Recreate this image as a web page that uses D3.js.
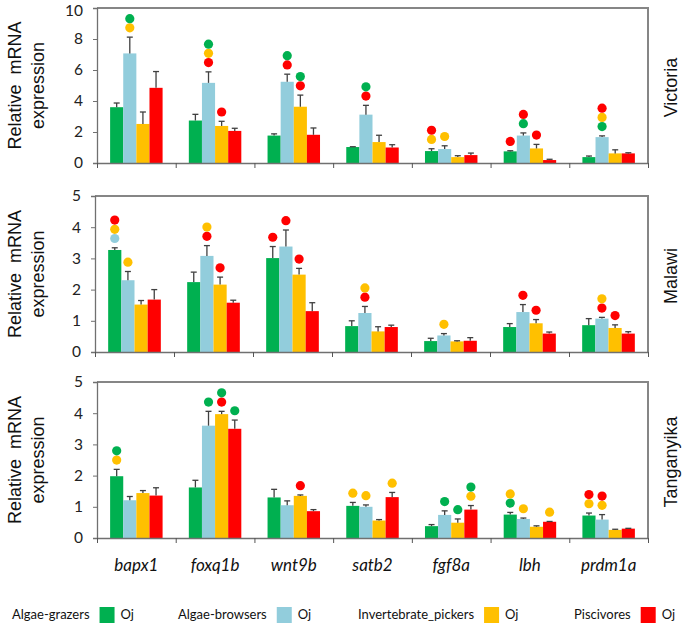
<!DOCTYPE html>
<html><head><meta charset="utf-8">
<script src="https://cdn.jsdelivr.net/npm/d3@7"></script>
<style>body{margin:0;background:#fff} svg{display:block}</style>
</head><body>
<svg id="chart" width="685" height="626"></svg>
<script>
// ---------- data ----------
const genes = ["bapx1", "foxq1b", "wnt9b", "satb2", "fgf8a", "lbh", "prdm1a"];
const series = ["Algae-grazers", "Algae-browsers", "Invertebrate_pickers", "Piscivores"];
const seriesColors = ["#00b050", "#92cddc", "#ffc000", "#ff0000"];
const sigCodes = ["G", "B", "Y", "R"]; // significance dot letters -> series colour
const lakes = ["Victoria", "Malawi", "Tanganyika"];

// rows: grazers, browsers, pickers, piscivores ; columns: genes
const victoriaMeans = [
  [3.60, 2.74, 1.77, 1.03, 0.77, 0.75, 0.38],
  [7.07, 5.17, 5.24, 3.12, 0.90, 1.77, 1.67],
  [2.52, 2.39, 3.63, 1.35, 0.38, 0.94, 0.62],
  [4.85, 2.07, 1.82, 1.00, 0.51, 0.19, 0.62]
];
const victoriaErrors = [
  [0.27, 0.40, 0.11, 0.02, 0.15, 0.04, 0.07],
  [1.05, 0.71, 0.49, 0.60, 0.21, 0.17, 0.08],
  [0.77, 0.30, 0.75, 0.44, 0.09, 0.26, 0.23],
  [1.05, 0.17, 0.44, 0.18, 0.13, 0.05, 0.04]
];
const victoriaSig = [
  ["", "", "", "", "YR", "R", ""],
  ["YG", "RYG", "RG", "RG", "Y", "GR", "GYR"],
  ["", "R", "RG", "", "", "R", ""],
  ["", "", "", "", "", "", ""]
];

const malawiMeans = [
  [3.27, 2.24, 3.01, 0.83, 0.35, 0.80, 0.86],
  [2.30, 3.08, 3.38, 1.25, 0.53, 1.28, 1.07],
  [1.52, 2.16, 2.48, 0.66, 0.34, 0.92, 0.77],
  [1.68, 1.58, 1.31, 0.80, 0.36, 0.59, 0.59]
];
const malawiErrors = [
  [0.07, 0.32, 0.37, 0.17, 0.09, 0.11, 0.21],
  [0.28, 0.33, 0.53, 0.21, 0.06, 0.24, 0.04],
  [0.13, 0.24, 0.20, 0.15, 0.02, 0.12, 0.10],
  [0.32, 0.08, 0.27, 0.06, 0.10, 0.05, 0.06]
];
const malawiSig = [
  ["BYR", "", "R", "", "", "", ""],
  ["Y", "RY", "R", "RY", "Y", "R", "RY"],
  ["", "R", "R", "", "", "R", "R"],
  ["", "", "", "", "", "", ""]
];

const tanganyikaMeans = [
  [1.98, 1.62, 1.30, 1.03, 0.38, 0.75, 0.72],
  [1.21, 3.60, 1.05, 1.00, 0.74, 0.61, 0.59],
  [1.44, 3.97, 1.35, 0.56, 0.49, 0.36, 0.26],
  [1.36, 3.50, 0.86, 1.31, 0.91, 0.52, 0.30]
];
const tanganyikaErrors = [
  [0.22, 0.23, 0.26, 0.11, 0.05, 0.07, 0.08],
  [0.12, 0.46, 0.14, 0.06, 0.13, 0.03, 0.16],
  [0.08, 0.09, 0.03, 0.03, 0.12, 0.03, 0.02],
  [0.25, 0.28, 0.05, 0.15, 0.13, 0.01, 0.01]
];
const tanganyikaSig = [
  ["YG", "", "", "Y", "", "GY", "YR"],
  ["", "G", "", "Y", "G", "Y", "YR"],
  ["", "RG", "R", "", "G", "", ""],
  ["", "G", "", "Y", "YG", "Y", ""]
];

const yMaxes = [10, 5, 5];
const yTickSteps = [2, 1, 1];
const yTitle = ["Relative  mRNA", "expression"];
const legendTag = "Oj";

// ---------- drawing ----------
const svg = d3.select("#chart");
const right = 648;
const panelDefs = [
  {lake: lakes[0], means: victoriaMeans, errors: victoriaErrors, sig: victoriaSig, yMax: yMaxes[0], step: yTickSteps[0], top: 8, bottom: 163, left: 97},
  {lake: lakes[1], means: malawiMeans, errors: malawiErrors, sig: malawiSig, yMax: yMaxes[1], step: yTickSteps[1], top: 196, bottom: 352, left: 95},
  {lake: lakes[2], means: tanganyikaMeans, errors: tanganyikaErrors, sig: tanganyikaSig, yMax: yMaxes[2], step: yTickSteps[2], top: 382, bottom: 538, left: 97}
];
const colorOf = d3.scaleOrdinal().domain(sigCodes).range(seriesColors);

panelDefs.forEach((p, pi) => {
  const x = d3.scaleBand().domain(genes).range([p.left, right]).padding(0);
  const xs = d3.scaleBand().domain(d3.range(series.length))
    .range([x.bandwidth() / 6, x.bandwidth() * 5 / 6]).padding(0);
  const y = d3.scaleLinear().domain([0, p.yMax]).range([p.bottom, p.top]);
  const g = svg.append("g");

  // frame top & right
  g.append("path")
    .attr("d", `M${p.left},${p.top}H${right}V${p.bottom}`)
    .attr("fill", "none").attr("stroke", "#868686").attr("stroke-width", 2);

  // bars
  const cells = [];
  series.forEach((s, si) => genes.forEach((gn, gi) => {
    cells.push({si, gi, gene: gn, v: p.means[si][gi], e: p.errors[si][gi], sig: p.sig[si][gi]});
  }));
  g.selectAll("rect.bar").data(cells).join("rect")
    .attr("class", "bar")
    .attr("x", d => x(d.gene) + xs(d.si))
    .attr("width", xs.bandwidth())
    .attr("y", d => y(d.v))
    .attr("height", d => y(0) - y(d.v))
    .attr("fill", d => seriesColors[d.si]);

  // error bars
  const eb = g.selectAll("g.err").data(cells).join("g").attr("class", "err")
    .attr("stroke", "#404040").attr("stroke-width", 1.3);
  eb.append("line")
    .attr("x1", d => x(d.gene) + xs(d.si) + xs.bandwidth() / 2)
    .attr("x2", d => x(d.gene) + xs(d.si) + xs.bandwidth() / 2)
    .attr("y1", d => y(d.v)).attr("y2", d => y(d.v + d.e));
  eb.append("line")
    .attr("x1", d => x(d.gene) + xs(d.si) + xs.bandwidth() / 2 - 3)
    .attr("x2", d => x(d.gene) + xs(d.si) + xs.bandwidth() / 2 + 3)
    .attr("y1", d => y(d.v + d.e)).attr("y2", d => y(d.v + d.e));

  // significance dots
  const dots = [];
  cells.forEach(c => c.sig.split("").forEach((code, k) => dots.push({c, code, k})));
  g.selectAll("circle.sig").data(dots).join("circle")
    .attr("class", "sig")
    .attr("cx", d => x(d.c.gene) + xs(d.c.si) + xs.bandwidth() / 2)
    .attr("cy", d => y(d.c.v + d.c.e) - 9.3 - 9.2 * d.k)
    .attr("r", 4.6)
    .attr("fill", d => colorOf(d.code));

  // y axis
  const yAxis = d3.axisLeft(y)
    .tickValues(d3.range(0, p.yMax + 1e-6, p.step))
    .tickSize(4).tickPadding(10).tickFormat(d3.format("d"));
  const ya = g.append("g").attr("transform", `translate(${p.left},0)`).call(yAxis);
  ya.select(".domain").attr("stroke", "#707070").attr("stroke-width", 1.3);
  ya.selectAll(".tick line").attr("stroke", "#707070");
  ya.selectAll(".tick text").attr("font-family", "Lato, 'Open Sans', sans-serif")
    .attr("font-size", 15.5).attr("fill", "#222")
    .attr("dy", d => (pi === 0 && d === p.yMax) ? "0.5em" : "0.32em");

  // x axis (boundary ticks)
  const xb = d3.scaleLinear().domain([0, genes.length]).range([p.left, right]);
  const xAxis = d3.axisBottom(xb).tickValues(d3.range(0, genes.length + 1))
    .tickSize(5).tickFormat("").tickSizeOuter(0);
  const xa = g.append("g").attr("transform", `translate(0,${p.bottom})`).call(xAxis);
  xa.select(".domain").attr("stroke", "#707070").attr("stroke-width", 1.5);
  xa.selectAll(".tick line").attr("stroke", "#555");

  // category labels (bottom panel only)
  if (pi === panelDefs.length - 1) {
    const la = g.append("g").attr("transform", `translate(0,${p.bottom})`)
      .call(d3.axisBottom(x).tickSize(0).tickPadding(21));
    la.select(".domain").remove();
    la.selectAll(".tick text").attr("font-family", "Lato, 'Open Sans', sans-serif")
      .attr("font-style", "italic").attr("font-size", 17).attr("fill", "#111");
  }

  // y title
  const cy = (p.top + p.bottom) / 2;
  yTitle.forEach((t, li) => {
    svg.append("text")
      .attr("transform", `translate(${21 + li * 23},${cy}) rotate(-90)`)
      .attr("text-anchor", "middle")
      .attr("font-family", "'Liberation Sans', Arial, sans-serif")
      .attr("font-size", 18).attr("fill", "#111")
      .attr("xml:space", "preserve")
      .style("white-space", "pre")
      .text(t);
  });

  // lake label on the right
  svg.append("text")
    .attr("transform", `translate(677,${cy + 2}) rotate(-90)`)
    .attr("text-anchor", "middle")
    .attr("font-family", "'Liberation Sans', Arial, sans-serif")
    .attr("font-size", 18).attr("fill", "#111")
    .text(p.lake);
});

// ---------- legend ----------
const legend = svg.append("g").attr("font-family", "Lato, 'Open Sans', sans-serif")
  .attr("font-size", 13).attr("fill", "#111");
const legendStarts = [12, 178, 358, 574];
series.forEach((s, i) => {
  const t = legend.append("text").attr("x", legendStarts[i]).attr("y", 619).text(s);
  const w = t.node().getComputedTextLength();
  const sx = legendStarts[i] + w + 10;
  legend.append("rect").attr("x", sx).attr("y", 607).attr("width", 15).attr("height", 16)
    .attr("fill", seriesColors[i]);
  legend.append("text").attr("x", sx + 21).attr("y", 619).text(legendTag);
});
</script>
</body></html>
